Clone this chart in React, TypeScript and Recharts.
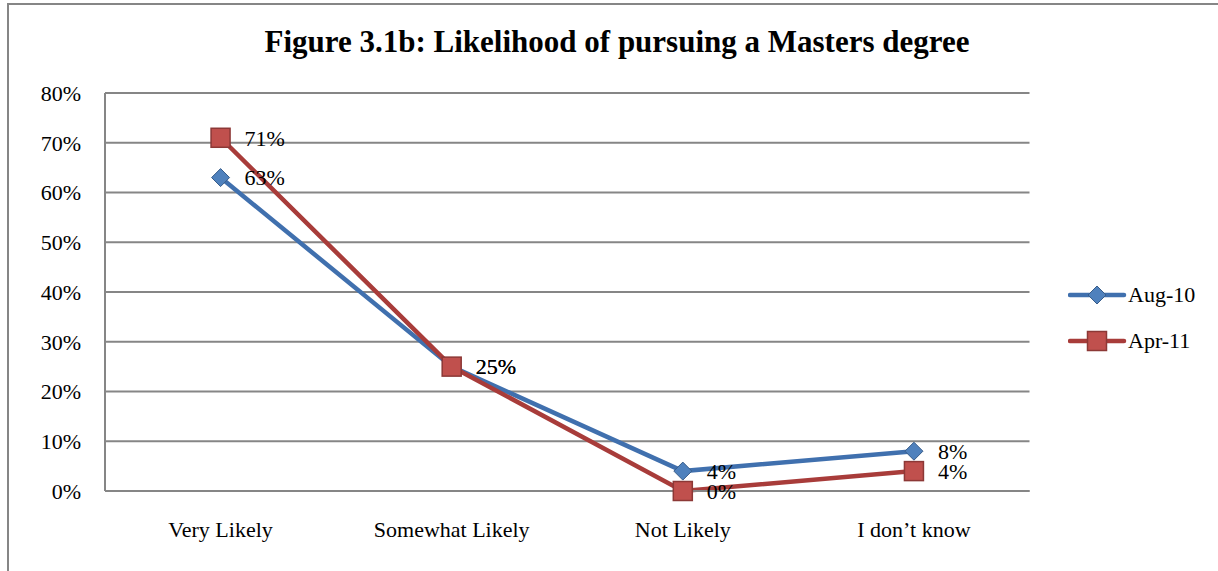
import React from 'react';
import { LineChart, Line, XAxis, YAxis, CartesianGrid, LabelList } from 'recharts';

const categories = ['Very Likely', 'Somewhat Likely', 'Not Likely', 'I don\u2019t know'];
const aug10 = [63, 25, 4, 8];
const apr11 = [71, 25, 0, 4];
const yTicks = [0, 10, 20, 30, 40, 50, 60, 70, 80];
const seriesNames = ['Aug-10', 'Apr-11'];

const data = categories.map((c, i) => ({ name: c, aug: aug10[i], apr: apr11[i] }));

const FONT = '"Liberation Serif", "Times New Roman", serif';
const GRID = '#868686';
const BLUE_LINE = '#4070AE';
const BLUE_FILL = '#4F81BD';
const BLUE_EDGE = '#385D8A';
const RED_LINE = '#A83C3A';
const RED_FILL = '#C0504D';
const RED_EDGE = '#8C3836';

const Diamond = (props: any) => {
  const { cx, cy } = props;
  if (cx == null || cy == null) return null;
  const r = 9;
  return (
    <polygon
      points={`${cx},${cy - r} ${cx + r},${cy} ${cx},${cy + r} ${cx - r},${cy}`}
      fill={BLUE_FILL}
      stroke={BLUE_EDGE}
      strokeWidth={1}
    />
  );
};

const Square = (props: any) => {
  const { cx, cy } = props;
  if (cx == null || cy == null) return null;
  const h = 9.5;
  return <rect x={cx - h} y={cy - h} width={2 * h} height={2 * h} fill={RED_FILL} stroke={RED_EDGE} strokeWidth={1.5} />;
};

const LegendBox = () => (
  <div style={{ position: 'absolute', left: 1068, top: 272, width: 150, fontFamily: FONT, fontSize: 22, color: '#000' }}>
    {seriesNames.map((n, i) => (
      <div key={n} style={{ display: 'flex', alignItems: 'center', height: 46 }}>
        <svg width={60} height={24}>
          <line x1={2} y1={12} x2={56} y2={12} stroke={i === 0 ? BLUE_LINE : RED_LINE} strokeWidth={4.5} strokeLinecap="round" />
          {i === 0 ? (
            <polygon points="29,3 38,12 29,21 20,12" fill={BLUE_FILL} stroke={BLUE_EDGE} strokeWidth={1} />
          ) : (
            <rect x={19.5} y={2.5} width={19} height={19} fill={RED_FILL} stroke={RED_EDGE} strokeWidth={1.5} />
          )}
        </svg>
        <span>{n}</span>
      </div>
    ))}
  </div>
);

export default function App() {
  return (
    <div style={{ position: 'absolute', left: 0, top: 0, width: 1218, height: 571, background: '#fff', overflow: 'hidden' }}>
      <div
        style={{
          position: 'absolute',
          left: 7,
          top: 3,
          width: 1220,
          height: 580,
          borderLeft: `2px solid ${GRID}`,
          borderTop: `2px solid ${GRID}`,
        }}
      />
      <div
        style={{
          position: 'absolute',
          left: 117,
          width: 1000,
          top: 24,
          textAlign: 'center',
          fontFamily: FONT,
          fontWeight: 'bold',
          fontSize: 31,
          color: '#000',
          whiteSpace: 'nowrap',
        }}
      >
        Figure 3.1b: Likelihood of pursuing a Masters degree
      </div>
      <div style={{ position: 'absolute', left: 0, top: 0 }}>
        <LineChart width={1218} height={571} data={data} margin={{ top: 93, right: 188.5, bottom: 0, left: 0 }}>
          <CartesianGrid vertical={false} horizontal stroke={GRID} strokeWidth={2} />
          <XAxis
            dataKey="name"
            scale="band"
            height={80}
            tickSize={0}
            tickMargin={30}
            tickLine={false}
            axisLine={{ stroke: GRID, strokeWidth: 2 }}
            tick={{ fontFamily: FONT, fontSize: 22, fill: '#000' }}
            interval={0}
          />
          <YAxis
            width={105}
            domain={[0, 80]}
            ticks={yTicks}
            tickFormatter={(v: number) => `${v}%`}
            tickSize={0}
            tickMargin={24}
            tickLine={false}
            axisLine={{ stroke: GRID, strokeWidth: 2 }}
            tick={{ fontFamily: FONT, fontSize: 22, fill: '#000' }}
            interval={0}
          />
          <Line
            name={seriesNames[0]}
            dataKey="aug"
            stroke={BLUE_LINE}
            strokeWidth={4.5}
            dot={<Diamond />}
            activeDot={false}
            isAnimationActive={false}
          >
            <LabelList
              dataKey="aug"
              position="right"
              offset={24}
              formatter={(v: number) => `${v}%`}
              style={{ fontFamily: FONT, fontSize: 22, fill: '#000' }}
            />
          </Line>
          <Line
            name={seriesNames[1]}
            dataKey="apr"
            stroke={RED_LINE}
            strokeWidth={4.5}
            dot={<Square />}
            activeDot={false}
            isAnimationActive={false}
          >
            <LabelList
              dataKey="apr"
              position="right"
              offset={24}
              formatter={(v: number) => `${v}%`}
              style={{ fontFamily: FONT, fontSize: 22, fill: '#000' }}
            />
          </Line>
        </LineChart>
      </div>
      <LegendBox />
    </div>
  );
}
